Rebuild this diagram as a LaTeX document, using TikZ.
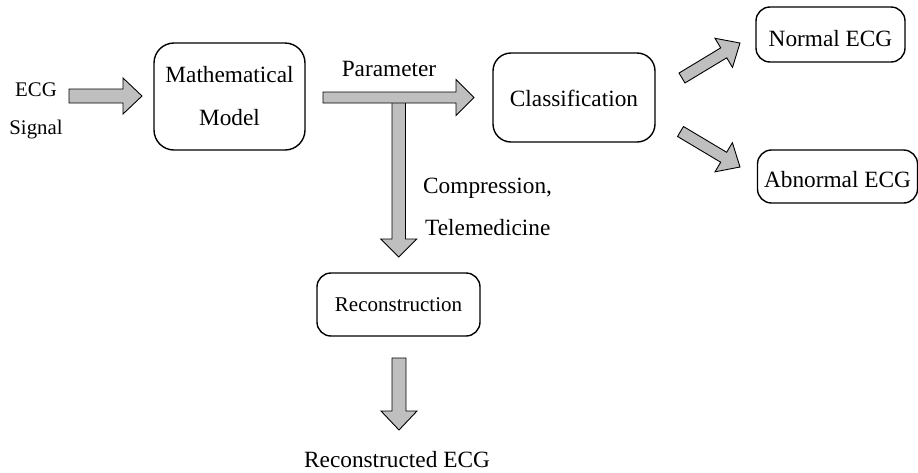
\documentclass[tikz,border=0pt]{standalone}
\usepackage{fontspec}
\setmainfont{Liberation Serif}
\usetikzlibrary{calc}
\newcommand{\blockarrow}[5]{%
  \path let \p1=($(#2)-(#1)$), \n1={atan2(\y1,\x1)}, \n2={veclen(\x1,\y1)} in
    \pgfextra{\pgfmathsetmacro\baangX{\n1}\pgfmathsetmacro\balenX{\n2}\xdef\baang{\baangX}\xdef\balen{\balenX}};
  \draw[barrow, shift={(#1)}, rotate=\baang]
    (0pt,-#3pt) -- ({\balen pt-#5pt},-#3pt) -- ({\balen pt-#5pt},-#4pt)
    -- (\balen pt,0pt) -- ({\balen pt-#5pt},#4pt) -- ({\balen pt-#5pt},#3pt)
    -- (0pt,#3pt) -- cycle;}
\begin{document}
\begin{tikzpicture}[x=1pt,y=-1pt,
  box/.style={draw, line width=1.4pt, rounded corners=#1, inner sep=0pt, align=center},
  box/.default=16pt,
  txt/.style={font=\fontsize{23.3}{43}\selectfont},
  smalltxt/.style={font=\fontsize{20.8}{25}\selectfont},
  barrow/.style={draw=black, line width=0.9pt, fill=black!25, line join=miter}]
\useasboundingbox (0,0) rectangle (918,472);
% boxes
\node[box=20pt, txt, minimum width=151pt, minimum height=107pt] (mm) at (229.5,96.5) {Mathematical\\Model};
\node[box=18pt, txt, minimum width=162pt, minimum height=89pt, text height=18.4pt, text depth=0pt] (cls) at (574,97.5) {Classification};
\node[box=14pt, txt, minimum width=149pt, minimum height=55pt, text height=23pt, text depth=0pt] (nrm) at (830.5,34.5) {Normal ECG};
\node[box=14pt, txt, minimum width=160pt, minimum height=53pt, text height=22pt, text depth=0pt] (abn) at (837.5,176.5) {Abnormal ECG};
\node[box=14pt, font=\fontsize{21}{25}\selectfont, minimum width=163pt, minimum height=63pt] (rec) at (398.5,304.5) {Reconstruction};
% free texts
\node[smalltxt, anchor=base, inner sep=0pt] (ecg) at (36,96.7) {ECG};
\node[smalltxt, anchor=base, inner sep=0pt] (sig) at (36,134) {Signal};
\node[txt, anchor=base, inner sep=0pt] (par) at (389,76.7) {Parameter};
\node[txt, anchor=base west, inner sep=0pt] (cmp) at (423,193) {Compression,};
\node[txt, anchor=base west, inner sep=0pt] (tel) at (425,235) {Telemedicine};
\node[txt, anchor=base, inner sep=0pt] (rce) at (397,467) {Reconstructed ECG};
% arrow end points
\coordinate (a1s) at (69,96);   \coordinate (a1e) at (142,96);
\coordinate (a2s) at (323,97.5); \coordinate (a2e) at (474,97.5);
\coordinate (a3s) at (398.75,100); \coordinate (a3e) at (398.75,257);
\coordinate (a4s) at (399,358); \coordinate (a4e) at (399,430);
\coordinate (a5s) at (682,78);  \coordinate (a5e) at (740,43);
\coordinate (a6s) at (680.5,131.5); \coordinate (a6e) at (740,167);
% block arrows
\blockarrow{a1s}{a1e}{7}{18}{19}
\blockarrow{a3s}{a3e}{6.75}{18}{18}
\blockarrow{a2s}{a2e}{5.5}{18}{18}
\blockarrow{a4s}{a4e}{7}{18}{19}
\blockarrow{a5s}{a5e}{5.8}{17}{19}
\blockarrow{a6s}{a6e}{5.8}{17}{19}
\end{tikzpicture}
\end{document}
